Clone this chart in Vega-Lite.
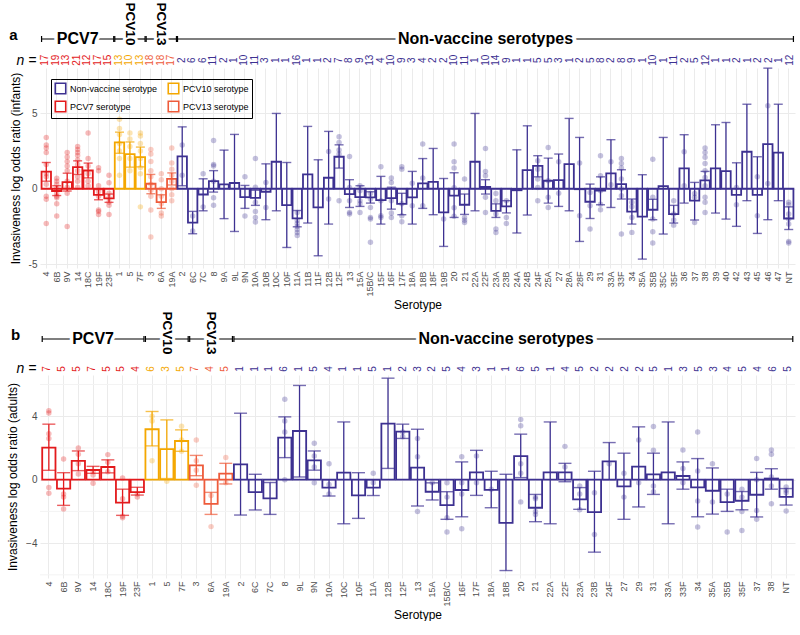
{
"$schema":"https://vega.github.io/schema/vega-lite/v6.json",
"background":"white",
"padding":{"left":6,"top":0,"right":4,"bottom":0},
"spacing":0,
"resolve":{"scale":{"color":"independent","fill":"independent"},"legend":{"color":"independent","fill":"independent"}},
"config":{"font":"Liberation Sans","view":{"stroke":null}},
"datasets":{
"gb":[{"gv":-6},{"gv":-2},{"gv":2},{"gv":6}],
"brA":[{"lab":"PCV7","from":"4","to":"23F","c":"14"},{"lab":"PCV10","from":"1","to":"7F","c":"5"},{"lab":"PCV13","from":"3","to":"19A","c":"6A"},{"lab":"Non-vaccine serotypes","from":"2","to":"NT","c":"22F"}],
"brB":[{"lab":"PCV7","from":"4","to":"23F","c":"14"},{"lab":"PCV10","from":"1","to":"7F","c":"5"},{"lab":"PCV13","from":"3","to":"19A","c":"6A"},{"lab":"Non-vaccine serotypes","from":"2","to":"NT","c":"18B"}],
"a":[
{"s":"4","g":"P7","n":17,"e":1.13,"lo":0.5,"hi":1.74},
{"s":"6B","g":"P7","n":19,"e":-0.15,"lo":-0.45,"hi":0.2},
{"s":"9V","g":"P7","n":13,"e":0.44,"lo":-0.15,"hi":1.03},
{"s":"14","g":"P7","n":21,"e":1.43,"lo":0.95,"hi":1.85},
{"s":"18C","g":"P7","n":12,"e":1.21,"lo":0.72,"hi":1.7},
{"s":"19F","g":"P7","n":17,"e":-0.4,"lo":-0.73,"hi":-0.05},
{"s":"23F","g":"P7","n":15,"e":-0.64,"lo":-0.9,"hi":-0.35},
{"s":"1","g":"P10","n":13,"e":3.07,"lo":2.35,"hi":3.75},
{"s":"5","g":"P10","n":10,"e":2.3,"lo":1.43,"hi":3.1},
{"s":"7F","g":"P10","n":13,"e":2.1,"lo":1.45,"hi":2.76},
{"s":"3","g":"P13","n":18,"e":0.33,"lo":-0.33,"hi":0.95},
{"s":"6A","g":"P13","n":18,"e":-0.88,"lo":-1.3,"hi":-0.4},
{"s":"19A","g":"P13","n":17,"e":0.65,"lo":0.25,"hi":1.05},
{"s":"2","g":"NV","n":2,"e":2.15,"lo":0.2,"hi":4.1},
{"s":"6C","g":"NV","n":6,"e":-2.25,"lo":-2.98,"hi":-1.5},
{"s":"7C","g":"NV","n":6,"e":-0.38,"lo":-1.46,"hi":0.66},
{"s":"8","g":"NV","n":11,"e":0.5,"lo":-0.22,"hi":1.2},
{"s":"9A","g":"NV","n":2,"e":0.29,"lo":-1.98,"hi":2.56},
{"s":"9L","g":"NV","n":1,"e":0.38,"lo":-2.83,"hi":3.6},
{"s":"9N","g":"NV","n":10,"e":-0.55,"lo":-1.3,"hi":0.22},
{"s":"10A","g":"NV","n":11,"e":-0.6,"lo":-1.1,"hi":-0.1},
{"s":"10B","g":"NV","n":3,"e":-0.2,"lo":-2.05,"hi":1.65},
{"s":"10C","g":"NV","n":1,"e":1.79,"lo":-1.46,"hi":4.99},
{"s":"10F","g":"NV","n":1,"e":-1.08,"lo":-3.89,"hi":1.74},
{"s":"11A","g":"NV","n":16,"e":-1.96,"lo":-2.52,"hi":-1.44},
{"s":"11B","g":"NV","n":1,"e":0.95,"lo":-2.27,"hi":4.13},
{"s":"11F","g":"NV","n":1,"e":-1.24,"lo":-4.44,"hi":1.92},
{"s":"12B","g":"NV","n":2,"e":0.73,"lo":-2.34,"hi":3.8},
{"s":"12F","g":"NV","n":7,"e":2.12,"lo":1.37,"hi":2.91},
{"s":"13","g":"NV","n":8,"e":-0.35,"lo":-1.24,"hi":0.6},
{"s":"15A","g":"NV","n":9,"e":-0.55,"lo":-1.17,"hi":0.2},
{"s":"15B/C","g":"NV","n":13,"e":-0.57,"lo":-0.95,"hi":-0.2},
{"s":"15F","g":"NV","n":4,"e":-0.75,"lo":-2.34,"hi":0.82},
{"s":"16F","g":"NV","n":10,"e":-0.62,"lo":-1.35,"hi":0.1},
{"s":"17F","g":"NV","n":9,"e":-1.0,"lo":-1.72,"hi":-0.3},
{"s":"18A","g":"NV","n":3,"e":-0.57,"lo":-2.34,"hi":1.15},
{"s":"18B","g":"NV","n":4,"e":0.35,"lo":-1.3,"hi":2.0},
{"s":"18F","g":"NV","n":2,"e":0.46,"lo":-1.72,"hi":2.67},
{"s":"19B","g":"NV","n":2,"e":-1.57,"lo":-3.82,"hi":0.68},
{"s":"20","g":"NV","n":10,"e":-0.45,"lo":-1.9,"hi":1.06},
{"s":"21","g":"NV","n":11,"e":-1.06,"lo":-1.7,"hi":-0.35},
{"s":"22A","g":"NV","n":1,"e":1.79,"lo":-1.46,"hi":4.99},
{"s":"22F","g":"NV","n":10,"e":0.13,"lo":-0.35,"hi":0.6},
{"s":"23A","g":"NV","n":14,"e":-1.46,"lo":-1.9,"hi":-1.0},
{"s":"23B","g":"NV","n":9,"e":-1.17,"lo":-1.6,"hi":-0.79},
{"s":"24A","g":"NV","n":1,"e":-0.1,"lo":-2.93,"hi":2.58},
{"s":"24B","g":"NV","n":1,"e":1.24,"lo":-1.74,"hi":4.17},
{"s":"24F","g":"NV","n":5,"e":1.52,"lo":0.79,"hi":2.19},
{"s":"25A","g":"NV","n":5,"e":0.53,"lo":-0.95,"hi":2.03},
{"s":"27","g":"NV","n":3,"e":0.57,"lo":-1.17,"hi":2.3},
{"s":"28A","g":"NV","n":1,"e":1.63,"lo":-1.46,"hi":4.66},
{"s":"28F","g":"NV","n":2,"e":-0.03,"lo":-3.49,"hi":3.4},
{"s":"29","g":"NV","n":5,"e":-0.86,"lo":-1.97,"hi":0.31},
{"s":"31","g":"NV","n":8,"e":-0.13,"lo":-1.06,"hi":0.79},
{"s":"33A","g":"NV","n":2,"e":1.02,"lo":-1.24,"hi":3.25},
{"s":"33F","g":"NV","n":8,"e":0.31,"lo":-0.68,"hi":1.26},
{"s":"34","g":"NV","n":9,"e":-1.52,"lo":-2.34,"hi":-0.68},
{"s":"35A","g":"NV","n":1,"e":-1.85,"lo":-4.66,"hi":0.93},
{"s":"35B","g":"NV","n":10,"e":-1.39,"lo":-2.05,"hi":-0.7},
{"s":"35C","g":"NV","n":1,"e":0.18,"lo":-3.0,"hi":3.4},
{"s":"35F","g":"NV","n":11,"e":-1.68,"lo":-2.27,"hi":-1.1},
{"s":"36","g":"NV","n":2,"e":1.35,"lo":-0.95,"hi":3.58},
{"s":"37","g":"NV","n":5,"e":-0.79,"lo":-2.07,"hi":0.42},
{"s":"38","g":"NV","n":12,"e":0.55,"lo":0.0,"hi":1.15},
{"s":"39","g":"NV","n":1,"e":1.35,"lo":-1.61,"hi":4.24},
{"s":"40","g":"NV","n":1,"e":1.17,"lo":-2.01,"hi":4.39},
{"s":"42","g":"NV","n":2,"e":-0.4,"lo":-2.49,"hi":1.72},
{"s":"43","g":"NV","n":1,"e":2.45,"lo":-0.79,"hi":5.6},
{"s":"45","g":"NV","n":2,"e":-0.4,"lo":-2.96,"hi":2.12},
{"s":"46","g":"NV","n":2,"e":2.96,"lo":-2.05,"hi":7.99},
{"s":"47","g":"NV","n":1,"e":2.4,"lo":-0.79,"hi":5.6},
{"s":"NT","g":"NV","n":12,"e":-1.97,"lo":-2.7,"hi":-1.2}
],
"pa":[
{"s":"4","g":"P7","v":3.4},{"s":"4","g":"P7","v":2.9},{"s":"4","g":"P7","v":2.7},{"s":"4","g":"P7","v":2.4},{"s":"4","g":"P7","v":1.6},{"s":"4","g":"P7","v":1.0},{"s":"4","g":"P7","v":0.8},{"s":"4","g":"P7","v":0.3},{"s":"4","g":"P7","v":-0.5},{"s":"4","g":"P7","v":-0.7},{"s":"4","g":"P7","v":-2.3},
{"s":"6B","g":"P7","v":0.7},{"s":"6B","g":"P7","v":0.5},{"s":"6B","g":"P7","v":0.3},{"s":"6B","g":"P7","v":0.0},{"s":"6B","g":"P7","v":-0.3},{"s":"6B","g":"P7","v":-0.5},{"s":"6B","g":"P7","v":-0.6},{"s":"6B","g":"P7","v":-1.0},{"s":"6B","g":"P7","v":-1.8},
{"s":"9V","g":"P7","v":2.4},{"s":"9V","g":"P7","v":2.1},{"s":"9V","g":"P7","v":1.8},{"s":"9V","g":"P7","v":1.5},{"s":"9V","g":"P7","v":1.2},{"s":"9V","g":"P7","v":0.5},{"s":"9V","g":"P7","v":0.1},{"s":"9V","g":"P7","v":-0.3},{"s":"9V","g":"P7","v":-2.5},
{"s":"14","g":"P7","v":2.8},{"s":"14","g":"P7","v":2.6},{"s":"14","g":"P7","v":2.4},{"s":"14","g":"P7","v":2.2},{"s":"14","g":"P7","v":1.9},{"s":"14","g":"P7","v":1.6},{"s":"14","g":"P7","v":1.2},{"s":"14","g":"P7","v":0.8},{"s":"14","g":"P7","v":0.5},{"s":"14","g":"P7","v":0.1},
{"s":"18C","g":"P7","v":3.7},{"s":"18C","g":"P7","v":2.0},{"s":"18C","g":"P7","v":1.5},{"s":"18C","g":"P7","v":1.0},{"s":"18C","g":"P7","v":0.5},{"s":"18C","g":"P7","v":0.2},
{"s":"19F","g":"P7","v":1.4},{"s":"19F","g":"P7","v":1.2},{"s":"19F","g":"P7","v":0.2},{"s":"19F","g":"P7","v":-0.2},{"s":"19F","g":"P7","v":-0.5},{"s":"19F","g":"P7","v":-1.4},{"s":"19F","g":"P7","v":-1.5},{"s":"19F","g":"P7","v":-1.7},
{"s":"23F","g":"P7","v":0.9},{"s":"23F","g":"P7","v":0.4},{"s":"23F","g":"P7","v":-0.3},{"s":"23F","g":"P7","v":-0.6},{"s":"23F","g":"P7","v":-0.9},{"s":"23F","g":"P7","v":-1.1},{"s":"23F","g":"P7","v":-1.7},
{"s":"1","g":"P10","v":4.6},{"s":"1","g":"P10","v":4.0},{"s":"1","g":"P10","v":3.6},{"s":"1","g":"P10","v":3.0},{"s":"1","g":"P10","v":2.5},{"s":"1","g":"P10","v":2.0},{"s":"1","g":"P10","v":0.9},
{"s":"5","g":"P10","v":3.7},{"s":"5","g":"P10","v":3.3},{"s":"5","g":"P10","v":2.8},{"s":"5","g":"P10","v":2.0},{"s":"5","g":"P10","v":1.2},
{"s":"7F","g":"P10","v":3.7},{"s":"7F","g":"P10","v":3.5},{"s":"7F","g":"P10","v":3.0},{"s":"7F","g":"P10","v":2.5},{"s":"7F","g":"P10","v":2.0},{"s":"7F","g":"P10","v":1.4},{"s":"7F","g":"P10","v":1.0},{"s":"7F","g":"P10","v":-1.2},
{"s":"3","g":"P13","v":2.6},{"s":"3","g":"P13","v":2.3},{"s":"3","g":"P13","v":1.8},{"s":"3","g":"P13","v":1.2},{"s":"3","g":"P13","v":0.8},{"s":"3","g":"P13","v":0.3},{"s":"3","g":"P13","v":-0.1},{"s":"3","g":"P13","v":-0.5},{"s":"3","g":"P13","v":-1.4},{"s":"3","g":"P13","v":-3.2},
{"s":"6A","g":"P13","v":1.0},{"s":"6A","g":"P13","v":0.6},{"s":"6A","g":"P13","v":0.0},{"s":"6A","g":"P13","v":-0.5},{"s":"6A","g":"P13","v":-1.0},{"s":"6A","g":"P13","v":-1.6},{"s":"6A","g":"P13","v":-1.8},
{"s":"19A","g":"P13","v":2.7},{"s":"19A","g":"P13","v":1.7},{"s":"19A","g":"P13","v":1.3},{"s":"19A","g":"P13","v":0.9},{"s":"19A","g":"P13","v":0.5},{"s":"19A","g":"P13","v":0.0},{"s":"19A","g":"P13","v":-0.4},{"s":"19A","g":"P13","v":-0.8},
{"s":"2","g":"NV","v":2.9},{"s":"2","g":"NV","v":0.9},
{"s":"6C","g":"NV","v":-1.8},{"s":"6C","g":"NV","v":-2.8},
{"s":"7C","g":"NV","v":1.0},{"s":"7C","g":"NV","v":-1.2},
{"s":"8","g":"NV","v":3.2},{"s":"8","g":"NV","v":1.6},{"s":"8","g":"NV","v":1.5},{"s":"8","g":"NV","v":0.5},{"s":"8","g":"NV","v":-0.6},{"s":"8","g":"NV","v":-1.1},
{"s":"9N","g":"NV","v":0.8},{"s":"9N","g":"NV","v":-1.8},
{"s":"10A","g":"NV","v":2.0},{"s":"10A","g":"NV","v":0.1},{"s":"10A","g":"NV","v":-0.9},{"s":"10A","g":"NV","v":-1.5},{"s":"10A","g":"NV","v":-1.9},{"s":"10A","g":"NV","v":-2.2},
{"s":"10B","g":"NV","v":0.42},{"s":"10B","g":"NV","v":-1.24},
{"s":"11A","g":"NV","v":-1.57},{"s":"11A","g":"NV","v":-2.1},{"s":"11A","g":"NV","v":-2.3},{"s":"11A","g":"NV","v":-2.5},{"s":"11A","g":"NV","v":-2.7},{"s":"11A","g":"NV","v":-2.9},{"s":"11A","g":"NV","v":-3.1},
{"s":"12B","g":"NV","v":2.47},{"s":"12B","g":"NV","v":-0.68},
{"s":"12F","g":"NV","v":3.44},{"s":"12F","g":"NV","v":3.07},{"s":"12F","g":"NV","v":2.56},{"s":"12F","g":"NV","v":2.3},{"s":"12F","g":"NV","v":-0.79},
{"s":"13","g":"NV","v":2.14},{"s":"13","g":"NV","v":0.09},{"s":"13","g":"NV","v":-0.79},{"s":"13","g":"NV","v":-1.57},{"s":"13","g":"NV","v":-1.68},
{"s":"15A","g":"NV","v":0.2},{"s":"15A","g":"NV","v":-0.13},{"s":"15A","g":"NV","v":-0.79},{"s":"15A","g":"NV","v":-1.0},{"s":"15A","g":"NV","v":-1.57},
{"s":"15B/C","g":"NV","v":-0.31},{"s":"15B/C","g":"NV","v":-0.68},{"s":"15B/C","g":"NV","v":-1.24},{"s":"15B/C","g":"NV","v":-1.9},{"s":"15B/C","g":"NV","v":-2.0},{"s":"15B/C","g":"NV","v":-3.55},
{"s":"15F","g":"NV","v":1.46},{"s":"15F","g":"NV","v":-0.79},{"s":"15F","g":"NV","v":-1.79},{"s":"15F","g":"NV","v":-1.9},
{"s":"16F","g":"NV","v":0.71},{"s":"16F","g":"NV","v":0.42},{"s":"16F","g":"NV","v":-0.79},{"s":"16F","g":"NV","v":-1.61},{"s":"16F","g":"NV","v":-1.9},
{"s":"17F","g":"NV","v":1.46},{"s":"17F","g":"NV","v":1.3},{"s":"17F","g":"NV","v":-1.0},{"s":"17F","g":"NV","v":-1.79},{"s":"17F","g":"NV","v":-2.19},
{"s":"18A","g":"NV","v":0.37},{"s":"18A","g":"NV","v":-1.13},
{"s":"18B","g":"NV","v":2.96},{"s":"18B","g":"NV","v":0.71},{"s":"18B","g":"NV","v":-1.13},
{"s":"19B","g":"NV","v":-2.0},
{"s":"20","g":"NV","v":2.96},{"s":"20","g":"NV","v":1.79},{"s":"20","g":"NV","v":1.37},{"s":"20","g":"NV","v":0.07},{"s":"20","g":"NV","v":-1.26},{"s":"20","g":"NV","v":-1.82},
{"s":"21","g":"NV","v":0.64},{"s":"21","g":"NV","v":-1.9},{"s":"21","g":"NV","v":-2.08},{"s":"21","g":"NV","v":-2.24},
{"s":"22F","g":"NV","v":2.67},{"s":"22F","g":"NV","v":1.15},{"s":"22F","g":"NV","v":0.86},{"s":"22F","g":"NV","v":-0.57},{"s":"22F","g":"NV","v":-1.57},
{"s":"23A","g":"NV","v":-0.31},{"s":"23A","g":"NV","v":-0.79},{"s":"23A","g":"NV","v":-1.68},{"s":"23A","g":"NV","v":-2.67},{"s":"23A","g":"NV","v":-2.9},
{"s":"23B","g":"NV","v":-0.79},{"s":"23B","g":"NV","v":-1.9},{"s":"23B","g":"NV","v":-2.3},
{"s":"24F","g":"NV","v":1.85},{"s":"24F","g":"NV","v":1.3},{"s":"24F","g":"NV","v":0.64},{"s":"24F","g":"NV","v":0.09},{"s":"24F","g":"NV","v":-0.8},
{"s":"25A","g":"NV","v":2.74},{"s":"25A","g":"NV","v":0.53},{"s":"25A","g":"NV","v":-0.57},{"s":"25A","g":"NV","v":-1.24},
{"s":"27","g":"NV","v":1.79},{"s":"27","g":"NV","v":-0.29},
{"s":"28F","g":"NV","v":1.7},{"s":"28F","g":"NV","v":-1.79},
{"s":"29","g":"NV","v":-0.24},{"s":"29","g":"NV","v":-1.13},{"s":"29","g":"NV","v":-2.67},
{"s":"31","g":"NV","v":2.19},{"s":"31","g":"NV","v":0.86},{"s":"31","g":"NV","v":-0.13},{"s":"31","g":"NV","v":-1.02},{"s":"31","g":"NV","v":-1.39},
{"s":"33A","g":"NV","v":1.79},{"s":"33A","g":"NV","v":0.26},
{"s":"33F","g":"NV","v":2.0},{"s":"33F","g":"NV","v":1.68},{"s":"33F","g":"NV","v":1.37},{"s":"33F","g":"NV","v":0.64},{"s":"33F","g":"NV","v":0.0},{"s":"33F","g":"NV","v":-0.46},{"s":"33F","g":"NV","v":-3.0},
{"s":"34","g":"NV","v":-0.9},{"s":"34","g":"NV","v":-1.19},{"s":"34","g":"NV","v":-1.9},{"s":"34","g":"NV","v":-2.89},
{"s":"35B","g":"NV","v":1.96},{"s":"35B","g":"NV","v":-0.57},{"s":"35B","g":"NV","v":-2.0},{"s":"35B","g":"NV","v":-2.85},{"s":"35B","g":"NV","v":-3.6},
{"s":"35F","g":"NV","v":-0.79},{"s":"35F","g":"NV","v":-1.68},{"s":"35F","g":"NV","v":-2.07},{"s":"35F","g":"NV","v":-2.41},
{"s":"36","g":"NV","v":2.45},{"s":"36","g":"NV","v":0.2},
{"s":"37","g":"NV","v":-0.31},{"s":"37","g":"NV","v":-0.57},{"s":"37","g":"NV","v":-2.23},
{"s":"38","g":"NV","v":2.7},{"s":"38","g":"NV","v":2.4},{"s":"38","g":"NV","v":2.08},{"s":"38","g":"NV","v":1.68},{"s":"38","g":"NV","v":1.19},{"s":"38","g":"NV","v":0.75},{"s":"38","g":"NV","v":0.2},{"s":"38","g":"NV","v":-0.57},{"s":"38","g":"NV","v":-0.9},{"s":"38","g":"NV","v":-1.57},
{"s":"42","g":"NV","v":0.09},{"s":"42","g":"NV","v":-1.06},
{"s":"45","g":"NV","v":0.79},{"s":"45","g":"NV","v":-1.79},
{"s":"46","g":"NV","v":5.5},{"s":"46","g":"NV","v":0.35},
{"s":"NT","g":"NV","v":-0.9},{"s":"NT","g":"NV","v":-1.06},{"s":"NT","g":"NV","v":-1.68},{"s":"NT","g":"NV","v":-2.01},{"s":"NT","g":"NV","v":-2.34},{"s":"NT","g":"NV","v":-3.49},{"s":"NT","g":"NV","v":-3.6}
],
"b":[
{"s":"4","g":"P7","n":7,"e":2.02,"lo":0.59,"hi":3.5},
{"s":"6B","g":"P7","n":5,"e":-0.57,"lo":-1.62,"hi":0.44},
{"s":"9V","g":"P7","n":5,"e":1.18,"lo":0.57,"hi":1.81},
{"s":"14","g":"P7","n":7,"e":0.61,"lo":0.4,"hi":0.84},
{"s":"18C","g":"P7","n":5,"e":0.8,"lo":0.43,"hi":1.25},
{"s":"19F","g":"P7","n":5,"e":-1.45,"lo":-2.25,"hi":-0.6},
{"s":"23F","g":"P7","n":4,"e":-0.78,"lo":-0.97,"hi":-0.48},
{"s":"1","g":"P10","n":6,"e":3.18,"lo":2.13,"hi":4.3},
{"s":"5","g":"P10","n":3,"e":1.92,"lo":0.07,"hi":3.77},
{"s":"7F","g":"P10","n":5,"e":2.44,"lo":1.79,"hi":3.14},
{"s":"3","g":"P13","n":7,"e":0.9,"lo":0.25,"hi":1.53},
{"s":"6A","g":"P13","n":4,"e":-1.52,"lo":-2.19,"hi":-0.8},
{"s":"19A","g":"P13","n":5,"e":0.38,"lo":-0.27,"hi":1.03},
{"s":"2","g":"NV","n":1,"e":0.97,"lo":-2.23,"hi":4.19},
{"s":"6C","g":"NV","n":1,"e":-0.78,"lo":-1.91,"hi":0.34},
{"s":"7C","g":"NV","n":1,"e":-1.18,"lo":-2.19,"hi":-0.18},
{"s":"8","g":"NV","n":6,"e":2.65,"lo":1.39,"hi":3.96},
{"s":"9L","g":"NV","n":1,"e":3.07,"lo":0.17,"hi":5.94},
{"s":"9N","g":"NV","n":5,"e":1.22,"lo":0.6,"hi":1.81},
{"s":"10A","g":"NV","n":4,"e":-0.5,"lo":-1.03,"hi":0.0},
{"s":"10C","g":"NV","n":1,"e":0.44,"lo":-2.78,"hi":3.64},
{"s":"10F","g":"NV","n":1,"e":-0.99,"lo":-2.44,"hi":0.44},
{"s":"11A","g":"NV","n":5,"e":-0.5,"lo":-1.0,"hi":0.0},
{"s":"12B","g":"NV","n":1,"e":3.54,"lo":0.71,"hi":6.4},
{"s":"12F","g":"NV","n":2,"e":3.03,"lo":2.6,"hi":3.5},
{"s":"13","g":"NV","n":3,"e":0.76,"lo":-1.66,"hi":3.18},
{"s":"15A","g":"NV","n":2,"e":-0.76,"lo":-1.28,"hi":-0.2},
{"s":"15B/C","g":"NV","n":5,"e":-1.6,"lo":-2.5,"hi":-0.76},
{"s":"16F","g":"NV","n":4,"e":-0.65,"lo":-2.34,"hi":1.12},
{"s":"17F","g":"NV","n":3,"e":0.46,"lo":-0.99,"hi":1.85},
{"s":"18A","g":"NV","n":1,"e":-0.64,"lo":-1.77,"hi":0.53},
{"s":"18B","g":"NV","n":1,"e":-2.72,"lo":-5.73,"hi":0.34},
{"s":"20","g":"NV","n":6,"e":1.49,"lo":0.13,"hi":2.87},
{"s":"21","g":"NV","n":5,"e":-1.77,"lo":-2.65,"hi":-0.93},
{"s":"22A","g":"NV","n":1,"e":0.46,"lo":-2.78,"hi":3.64},
{"s":"22F","g":"NV","n":4,"e":0.46,"lo":-0.13,"hi":1.03},
{"s":"23A","g":"NV","n":5,"e":-1.24,"lo":-1.87,"hi":-0.5},
{"s":"23B","g":"NV","n":2,"e":-2.04,"lo":-4.57,"hi":0.53},
{"s":"24F","g":"NV","n":2,"e":1.16,"lo":0.0,"hi":2.34},
{"s":"27","g":"NV","n":2,"e":-0.42,"lo":-2.5,"hi":1.67},
{"s":"29","g":"NV","n":2,"e":0.82,"lo":-1.72,"hi":3.33},
{"s":"31","g":"NV","n":5,"e":0.34,"lo":-0.93,"hi":1.67},
{"s":"33A","g":"NV","n":1,"e":0.46,"lo":-2.78,"hi":3.64},
{"s":"33F","g":"NV","n":3,"e":0.23,"lo":-0.6,"hi":1.12},
{"s":"34","g":"NV","n":5,"e":-0.49,"lo":-2.34,"hi":1.33},
{"s":"35A","g":"NV","n":3,"e":-0.7,"lo":-2.17,"hi":0.74},
{"s":"35B","g":"NV","n":4,"e":-1.41,"lo":-2.0,"hi":-0.6},
{"s":"35F","g":"NV","n":5,"e":-1.33,"lo":-1.9,"hi":-0.75},
{"s":"37","g":"NV","n":4,"e":-0.95,"lo":-2.35,"hi":0.46},
{"s":"38","g":"NV","n":6,"e":0.07,"lo":-0.6,"hi":0.69},
{"s":"NT","g":"NV","n":5,"e":-1.09,"lo":-1.6,"hi":-0.56}
],
"pb":[
{"s":"4","g":"P7","v":4.34},{"s":"4","g":"P7","v":4.2},{"s":"4","g":"P7","v":2.9},{"s":"4","g":"P7","v":2.6},{"s":"4","g":"P7","v":-0.5},{"s":"4","g":"P7","v":-0.85},
{"s":"6B","g":"P7","v":1.3},{"s":"6B","g":"P7","v":-0.9},{"s":"6B","g":"P7","v":-1.1},{"s":"6B","g":"P7","v":-1.85},
{"s":"9V","g":"P7","v":2.0},{"s":"9V","g":"P7","v":1.6},{"s":"9V","g":"P7","v":1.0},{"s":"9V","g":"P7","v":0.36},
{"s":"14","g":"P7","v":0.5},{"s":"14","g":"P7","v":0.3},{"s":"14","g":"P7","v":-0.23},
{"s":"18C","g":"P7","v":1.58},{"s":"18C","g":"P7","v":1.1},{"s":"18C","g":"P7","v":0.5},
{"s":"19F","g":"P7","v":0.1},{"s":"19F","g":"P7","v":-1.2},{"s":"19F","g":"P7","v":-2.3},{"s":"19F","g":"P7","v":-2.4},
{"s":"23F","g":"P7","v":-0.9},{"s":"23F","g":"P7","v":-1.1},
{"s":"1","g":"P10","v":4.0},{"s":"1","g":"P10","v":3.7},{"s":"1","g":"P10","v":1.2},
{"s":"5","g":"P10","v":-0.1},
{"s":"7F","g":"P10","v":3.37},{"s":"7F","g":"P10","v":2.5},{"s":"7F","g":"P10","v":1.8},
{"s":"3","g":"P13","v":2.5},{"s":"3","g":"P13","v":1.2},{"s":"3","g":"P13","v":0.6},{"s":"3","g":"P13","v":-0.35},
{"s":"6A","g":"P13","v":-1.0},{"s":"6A","g":"P13","v":-2.96},
{"s":"19A","g":"P13","v":1.4},{"s":"19A","g":"P13","v":-0.2},
{"s":"8","g":"NV","v":5.07},{"s":"8","g":"NV","v":3.7},{"s":"8","g":"NV","v":3.0},{"s":"8","g":"NV","v":0.0},
{"s":"9N","g":"NV","v":2.3},{"s":"9N","g":"NV","v":1.5},{"s":"9N","g":"NV","v":0.8},{"s":"9N","g":"NV","v":-0.2},
{"s":"10A","g":"NV","v":1.0},{"s":"10A","g":"NV","v":-0.3},{"s":"10A","g":"NV","v":-0.9},
{"s":"11A","g":"NV","v":0.4},{"s":"11A","g":"NV","v":-0.2},
{"s":"12F","g":"NV","v":3.0},{"s":"12F","g":"NV","v":2.7},
{"s":"13","g":"NV","v":2.6},{"s":"13","g":"NV","v":1.45},{"s":"13","g":"NV","v":-2.0},
{"s":"15A","g":"NV","v":-0.2},
{"s":"15B/C","g":"NV","v":-0.2},{"s":"15B/C","g":"NV","v":-1.1},{"s":"15B/C","g":"NV","v":-2.4},{"s":"15B/C","g":"NV","v":-3.3},
{"s":"16F","g":"NV","v":1.45},{"s":"16F","g":"NV","v":-0.2},{"s":"16F","g":"NV","v":-0.9},{"s":"16F","g":"NV","v":-3.1},
{"s":"17F","g":"NV","v":1.5},{"s":"17F","g":"NV","v":-0.2},
{"s":"18A","g":"NV","v":-0.6},
{"s":"20","g":"NV","v":3.8},{"s":"20","g":"NV","v":3.4},{"s":"20","g":"NV","v":1.0},{"s":"20","g":"NV","v":0.4},{"s":"20","g":"NV","v":-1.4},
{"s":"21","g":"NV","v":-1.1},{"s":"21","g":"NV","v":-1.2},{"s":"21","g":"NV","v":-2.0},{"s":"21","g":"NV","v":-2.2},
{"s":"22F","g":"NV","v":2.1},{"s":"22F","g":"NV","v":0.8},
{"s":"23A","g":"NV","v":-0.4},{"s":"23A","g":"NV","v":-0.9},{"s":"23A","g":"NV","v":-1.9},
{"s":"23B","g":"NV","v":-0.82},{"s":"23B","g":"NV","v":-3.45},
{"s":"24F","g":"NV","v":1.0},
{"s":"27","g":"NV","v":0.4},{"s":"27","g":"NV","v":-1.1},
{"s":"29","g":"NV","v":2.5},{"s":"29","g":"NV","v":-0.2},
{"s":"31","g":"NV","v":3.35},{"s":"31","g":"NV","v":1.85},{"s":"31","g":"NV","v":-0.4},{"s":"31","g":"NV","v":-0.76},
{"s":"33F","g":"NV","v":1.87},{"s":"33F","g":"NV","v":0.7},{"s":"33F","g":"NV","v":-0.2},
{"s":"34","g":"NV","v":3.01},{"s":"34","g":"NV","v":0.55},{"s":"34","g":"NV","v":-1.35},{"s":"34","g":"NV","v":-2.99},
{"s":"35A","g":"NV","v":1.0},{"s":"35A","g":"NV","v":-1.4},
{"s":"35B","g":"NV","v":-0.9},{"s":"35B","g":"NV","v":-3.3},
{"s":"35F","g":"NV","v":-0.6},{"s":"35F","g":"NV","v":-1.1},{"s":"35F","g":"NV","v":-2.0},{"s":"35F","g":"NV","v":-3.2},
{"s":"37","g":"NV","v":1.33},{"s":"37","g":"NV","v":0.0},{"s":"37","g":"NV","v":-1.95},{"s":"37","g":"NV","v":-2.5},
{"s":"38","g":"NV","v":1.87},{"s":"38","g":"NV","v":1.6},{"s":"38","g":"NV","v":0.17},{"s":"38","g":"NV","v":-0.4},{"s":"38","g":"NV","v":-1.52},
{"s":"NT","g":"NV","v":-0.46},{"s":"NT","g":"NV","v":-0.67},{"s":"NT","g":"NV","v":-0.82},{"s":"NT","g":"NV","v":-1.98}
]
},
"vconcat":[
{
"width":755,"height":50,
"data":{"name":"brA"},
"encoding":{"x":{"field":"from","type":"nominal","scale":{"domain":["4","6B","9V","14","18C","19F","23F","1","5","7F","3","6A","19A","2","6C","7C","8","9A","9L","9N","10A","10B","10C","10F","11A","11B","11F","12B","12F","13","15A","15B/C","15F","16F","17F","18A","18B","18F","19B","20","21","22A","22F","23A","23B","24A","24B","24F","25A","27","28A","28F","29","31","33A","33F","34","35A","35B","35C","35F","36","37","38","39","40","42","43","45","46","47","NT"],"paddingInner":0.1,"paddingOuter":0.15},"axis":null}},
"layer":[
{"mark":{"type":"rule","color":"black","strokeWidth":1.2},"encoding":{"x":{"field":"from","type":"nominal","bandPosition":0},"x2":{"field":"to","bandPosition":1},"y":{"datum":39,"type":"quantitative","scale":{"domain":[0,50],"reverse":true},"axis":{"title":"a","titleAngle":0,"titleFontSize":15,"titleFontWeight":"bold","titleAlign":"center","titleBaseline":"middle","titleX":-27,"titleY":34,"labels":false,"ticks":false,"domain":false,"grid":false}}}},
{"mark":{"type":"rule","color":"black","strokeWidth":1.2},"encoding":{"x":{"field":"from","type":"nominal","bandPosition":0},"y":{"datum":36,"type":"quantitative"},"y2":{"datum":42}}},
{"mark":{"type":"rule","color":"black","strokeWidth":1.2},"encoding":{"x":{"field":"to","type":"nominal","bandPosition":1},"y":{"datum":36,"type":"quantitative"},"y2":{"datum":42}}},
{"transform":[{"filter":"datum.lab == 'PCV7' || datum.lab == 'Non-vaccine serotypes'"}],"mark":{"type":"text","fontSize":16,"fontWeight":"bold","color":"white","stroke":"white","strokeWidth":7,"baseline":"middle"},"encoding":{"x":{"field":"c","type":"nominal"},"y":{"datum":39,"type":"quantitative"},"text":{"field":"lab"}}},
{"transform":[{"filter":"datum.lab == 'PCV7' || datum.lab == 'Non-vaccine serotypes'"}],"mark":{"type":"text","fontSize":16,"fontWeight":"bold","color":"black","baseline":"middle"},"encoding":{"x":{"field":"c","type":"nominal"},"y":{"datum":39,"type":"quantitative"},"text":{"field":"lab"}}},
{"transform":[{"filter":"datum.lab == 'PCV10' || datum.lab == 'PCV13'"}],"mark":{"type":"text","fontSize":13.5,"fontWeight":"bold","color":"white","stroke":"white","strokeWidth":6,"baseline":"middle","angle":90},"encoding":{"x":{"field":"c","type":"nominal"},"y":{"datum":24,"type":"quantitative"},"text":{"field":"lab"}}},
{"transform":[{"filter":"datum.lab == 'PCV10' || datum.lab == 'PCV13'"}],"mark":{"type":"text","fontSize":13.5,"fontWeight":"bold","color":"black","baseline":"middle","angle":90},"encoding":{"x":{"field":"c","type":"nominal"},"y":{"datum":24,"type":"quantitative"},"text":{"field":"lab"}}}
]
},
{
"width":755,"height":17,
"data":{"name":"a"},
"mark":{"type":"text","angle":270,"fontSize":10,"baseline":"middle","align":"center"},
"encoding":{
"x":{"field":"s","type":"nominal","scale":{"domain":["4","6B","9V","14","18C","19F","23F","1","5","7F","3","6A","19A","2","6C","7C","8","9A","9L","9N","10A","10B","10C","10F","11A","11B","11F","12B","12F","13","15A","15B/C","15F","16F","17F","18A","18B","18F","19B","20","21","22A","22F","23A","23B","24A","24B","24F","25A","27","28A","28F","29","31","33A","33F","34","35A","35B","35C","35F","36","37","38","39","40","42","43","45","46","47","NT"],"paddingInner":0.1,"paddingOuter":0.15},"axis":null},
"y":{"datum":0.4,"type":"quantitative","scale":{"domain":[0,1]},"axis":{"title":"n =","titleAngle":0,"titleFontSize":14,"titleFontStyle":"italic","titleFontWeight":"normal","titleAlign":"center","titleBaseline":"middle","titleX":-14,"titleY":10,"labels":false,"ticks":false,"domain":false,"grid":false}},
"text":{"field":"n"},
"color":{"field":"g","type":"nominal","scale":{"domain":["NV","P7","P10","P13"],"range":["#3D3191","#E31A1C","#F4A700","#EE5B3B"]},"legend":null}
}
},
{
"width":755,"height":200,
"encoding":{"x":{"field":"s","type":"nominal","title":"Serotype","scale":{"domain":["4","6B","9V","14","18C","19F","23F","1","5","7F","3","6A","19A","2","6C","7C","8","9A","9L","9N","10A","10B","10C","10F","11A","11B","11F","12B","12F","13","15A","15B/C","15F","16F","17F","18A","18B","18F","19B","20","21","22A","22F","23A","23B","24A","24B","24F","25A","27","28A","28F","29","31","33A","33F","34","35A","35B","35C","35F","36","37","38","39","40","42","43","45","46","47","NT"],"paddingInner":0.1,"paddingOuter":0.15},"axis":{"labelAngle":270,"labelFontSize":9,"labelColor":"#4D4D4D","labelOverlap":false,"labelPadding":3,"domain":false,"ticks":false,"grid":true,"gridColor":"#EBEBEB","bandPosition":0.5,"titleFontSize":12,"titleFontWeight":"normal","titleColor":"black","titlePadding":3}}},
"layer":[
{"data":{"name":"pa"},"mark":{"type":"circle","size":30,"fillOpacity":0.3,"opacity":1},"encoding":{"y":{"field":"v","type":"quantitative","title":"Invasiveness log odds ratio (infants)","scale":{"domain":[-5.25,8],"nice":false,"zero":false},"axis":{"values":[-5,-2.5,0,2.5,5,7.5],"labelOverlap":false,"labelExpr":"datum.value == 5 ? '5' : datum.value == 0 ? '0' : datum.value == -5 ? '-5' : ''","gridColor":{"condition":{"test":"abs(datum.value) == 5 || datum.value == 0","value":"#EBEBEB"},"value":"#F3F3F3"},"domain":false,"ticks":false,"labelFontSize":10,"labelColor":"#4D4D4D","labelPadding":3,"titleFontSize":12,"titleFontWeight":"normal","titleColor":"black","titlePadding":6}},"fill":{"field":"g","type":"nominal","scale":{"domain":["P7","P10","P13","NV"],"range":["#E31A1C","#F4A700","#EE5B3B","#3D3191"]},"legend":null}}},
{"data":{"name":"a"},"mark":{"type":"bar","filled":false,"strokeWidth":1.8},"encoding":{"y":{"field":"e","type":"quantitative","title":"Invasiveness log odds ratio (infants)"},"color":{"field":"g","type":"nominal","scale":{"domain":["NV","P7","P10","P13"],"range":["#3D3191","#E31A1C","#F4A700","#EE5B3B"]},"legend":{"orient":"none","legendX":11,"legendY":11,"columns":2,"title":null,"strokeColor":"black","padding":3,"columnPadding":7,"rowPadding":1,"labelFontSize":9,"labelColor":"black","labelOffset":3,"symbolType":"square","symbolSize":110,"symbolStrokeWidth":1.6,"symbolFillColor":"white","labelExpr":"datum.label == 'NV' ? 'Non-vaccine serotype' : datum.label == 'P10' ? 'PCV10 serotype' : datum.label == 'P7' ? 'PCV7 serotype' : 'PCV13 serotype'"}}}},
{"data":{"name":"a"},"mark":{"type":"rule","strokeWidth":1.3},"encoding":{"y":{"field":"lo","type":"quantitative","title":"Invasiveness log odds ratio (infants)"},"y2":{"field":"hi"},"color":{"field":"g","type":"nominal"}}},
{"data":{"name":"a"},"mark":{"type":"tick","size":9,"thickness":1.4},"encoding":{"y":{"field":"lo","type":"quantitative","title":"Invasiveness log odds ratio (infants)"},"fill":{"field":"g","type":"nominal"}}},
{"data":{"name":"a"},"mark":{"type":"tick","size":9,"thickness":1.4},"encoding":{"y":{"field":"hi","type":"quantitative","title":"Invasiveness log odds ratio (infants)"},"fill":{"field":"g","type":"nominal"}}}
]
},
{
"width":755,"height":45,
"data":{"name":"brB"},
"encoding":{"x":{"field":"from","type":"nominal","scale":{"domain":["4","6B","9V","14","18C","19F","23F","1","5","7F","3","6A","19A","2","6C","7C","8","9L","9N","10A","10C","10F","11A","12B","12F","13","15A","15B/C","16F","17F","18A","18B","20","21","22A","22F","23A","23B","24F","27","29","31","33A","33F","34","35A","35B","35F","37","38","NT"],"paddingInner":0.1,"paddingOuter":0.15},"axis":null}},
"layer":[
{"mark":{"type":"rule","color":"black","strokeWidth":1.2},"encoding":{"x":{"field":"from","type":"nominal","bandPosition":0},"x2":{"field":"to","bandPosition":1},"y":{"datum":27,"type":"quantitative","scale":{"domain":[0,45],"reverse":true},"axis":{"title":"b","titleAngle":0,"titleFontSize":15,"titleFontWeight":"bold","titleAlign":"center","titleBaseline":"middle","titleX":-25,"titleY":22,"labels":false,"ticks":false,"domain":false,"grid":false}}}},
{"mark":{"type":"rule","color":"black","strokeWidth":1.2},"encoding":{"x":{"field":"from","type":"nominal","bandPosition":0},"y":{"datum":24,"type":"quantitative"},"y2":{"datum":30}}},
{"mark":{"type":"rule","color":"black","strokeWidth":1.2},"encoding":{"x":{"field":"to","type":"nominal","bandPosition":1},"y":{"datum":24,"type":"quantitative"},"y2":{"datum":30}}},
{"transform":[{"filter":"datum.lab == 'PCV7' || datum.lab == 'Non-vaccine serotypes'"}],"mark":{"type":"text","fontSize":16,"fontWeight":"bold","color":"white","stroke":"white","strokeWidth":7,"baseline":"middle"},"encoding":{"x":{"field":"c","type":"nominal"},"y":{"datum":27,"type":"quantitative"},"text":{"field":"lab"}}},
{"transform":[{"filter":"datum.lab == 'PCV7' || datum.lab == 'Non-vaccine serotypes'"}],"mark":{"type":"text","fontSize":16,"fontWeight":"bold","color":"black","baseline":"middle"},"encoding":{"x":{"field":"c","type":"nominal"},"y":{"datum":27,"type":"quantitative"},"text":{"field":"lab"}}},
{"transform":[{"filter":"datum.lab == 'PCV10' || datum.lab == 'PCV13'"}],"mark":{"type":"text","fontSize":13.5,"fontWeight":"bold","color":"white","stroke":"white","strokeWidth":6,"baseline":"middle","angle":90},"encoding":{"x":{"field":"c","type":"nominal"},"y":{"datum":21,"type":"quantitative"},"text":{"field":"lab"}}},
{"transform":[{"filter":"datum.lab == 'PCV10' || datum.lab == 'PCV13'"}],"mark":{"type":"text","fontSize":13.5,"fontWeight":"bold","color":"black","baseline":"middle","angle":90},"encoding":{"x":{"field":"c","type":"nominal"},"y":{"datum":21,"type":"quantitative"},"text":{"field":"lab"}}}
]
},
{
"width":755,"height":17,
"data":{"name":"b"},
"mark":{"type":"text","angle":270,"fontSize":10,"baseline":"middle","align":"center"},
"encoding":{
"x":{"field":"s","type":"nominal","scale":{"domain":["4","6B","9V","14","18C","19F","23F","1","5","7F","3","6A","19A","2","6C","7C","8","9L","9N","10A","10C","10F","11A","12B","12F","13","15A","15B/C","16F","17F","18A","18B","20","21","22A","22F","23A","23B","24F","27","29","31","33A","33F","34","35A","35B","35F","37","38","NT"],"paddingInner":0.1,"paddingOuter":0.15},"axis":null},
"y":{"datum":0.3,"type":"quantitative","scale":{"domain":[0,1]},"axis":{"title":"n =","titleAngle":0,"titleFontSize":14,"titleFontStyle":"italic","titleFontWeight":"normal","titleAlign":"center","titleBaseline":"middle","titleX":-14,"titleY":11,"labels":false,"ticks":false,"domain":false,"grid":false}},
"text":{"field":"n"},
"color":{"field":"g","type":"nominal","scale":{"domain":["NV","P7","P10","P13"],"range":["#3D3191","#E31A1C","#F4A700","#EE5B3B"]},"legend":null}
}
},
{
"width":755,"height":203,
"encoding":{"x":{"field":"s","type":"nominal","title":"Serotype","scale":{"domain":["4","6B","9V","14","18C","19F","23F","1","5","7F","3","6A","19A","2","6C","7C","8","9L","9N","10A","10C","10F","11A","12B","12F","13","15A","15B/C","16F","17F","18A","18B","20","21","22A","22F","23A","23B","24F","27","29","31","33A","33F","34","35A","35B","35F","37","38","NT"],"paddingInner":0.1,"paddingOuter":0.15},"axis":{"labelAngle":270,"labelFontSize":9,"labelColor":"#4D4D4D","labelOverlap":false,"labelPadding":3,"domain":false,"ticks":false,"grid":true,"gridColor":"#EBEBEB","bandPosition":0.5,"titleFontSize":12,"titleFontWeight":"normal","titleColor":"black","titlePadding":3}}},
"layer":[
{"data":{"name":"gb"},"mark":{"type":"rule","color":"#F3F3F3","strokeWidth":1},"encoding":{"x":null,"y":{"field":"gv","type":"quantitative","title":"Invasiveness log odds ratio (adults)","scale":{"domain":[-6.2,6.6],"nice":false,"zero":false},"axis":{"values":[-4,0,4],"format":"d","labelOverlap":false,"gridColor":"#EBEBEB","domain":false,"ticks":false,"labelFontSize":10,"labelColor":"#4D4D4D","labelPadding":3,"titleFontSize":12,"titleFontWeight":"normal","titleColor":"black","titlePadding":6}}}},
{"data":{"name":"pb"},"mark":{"type":"circle","size":30,"fillOpacity":0.3,"opacity":1},"encoding":{"y":{"field":"v","type":"quantitative","title":"Invasiveness log odds ratio (adults)"},"fill":{"field":"g","type":"nominal","scale":{"domain":["P7","P10","P13","NV"],"range":["#E31A1C","#F4A700","#EE5B3B","#3D3191"]},"legend":null}}},
{"data":{"name":"b"},"mark":{"type":"bar","filled":false,"strokeWidth":1.8},"encoding":{"y":{"field":"e","type":"quantitative","title":"Invasiveness log odds ratio (adults)"},"color":{"field":"g","type":"nominal","scale":{"domain":["NV","P7","P10","P13"],"range":["#3D3191","#E31A1C","#F4A700","#EE5B3B"]},"legend":null}}},
{"data":{"name":"b"},"mark":{"type":"rule","strokeWidth":1.3},"encoding":{"y":{"field":"lo","type":"quantitative","title":"Invasiveness log odds ratio (adults)"},"y2":{"field":"hi"},"color":{"field":"g","type":"nominal"}}},
{"data":{"name":"b"},"mark":{"type":"tick","size":13,"thickness":1.4},"encoding":{"y":{"field":"lo","type":"quantitative","title":"Invasiveness log odds ratio (adults)"},"fill":{"field":"g","type":"nominal"}}},
{"data":{"name":"b"},"mark":{"type":"tick","size":13,"thickness":1.4},"encoding":{"y":{"field":"hi","type":"quantitative","title":"Invasiveness log odds ratio (adults)"},"fill":{"field":"g","type":"nominal"}}}
]
}
]
}
